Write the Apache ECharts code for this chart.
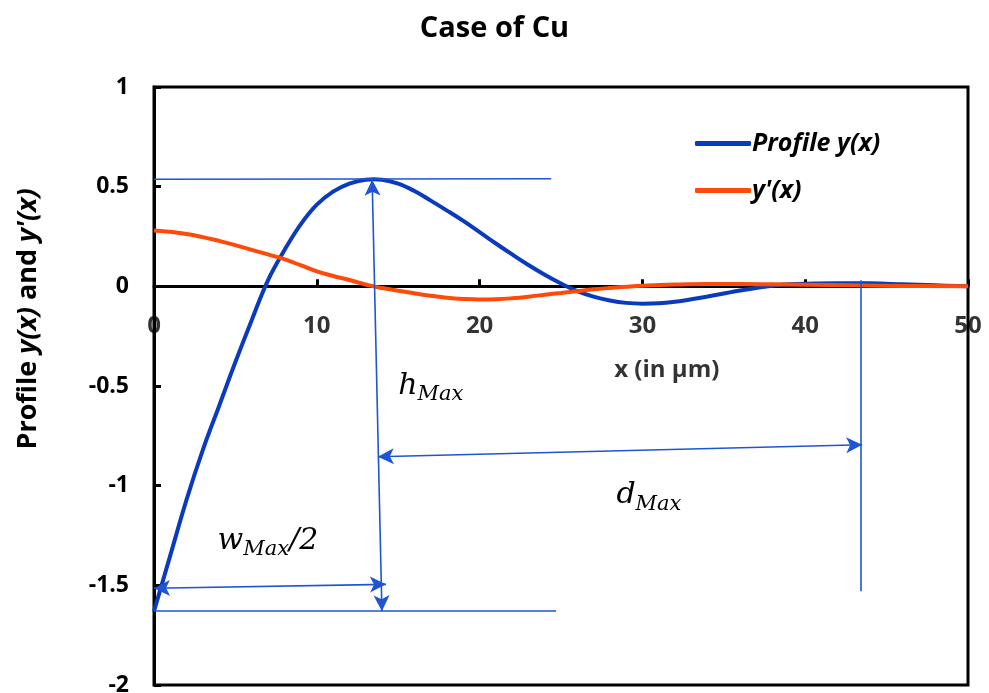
<!DOCTYPE html>
<html>
<head>
<meta charset="utf-8">
<script src="https://cdn.jsdelivr.net/npm/echarts@6/dist/echarts.min.js"></script>
<style>html,body{margin:0;padding:0;background:#fff}#c{width:989px;height:693px}</style>
</head>
<body>
<div id="c"></div>
<script>
// ---- data ----
const profileX = [0,0.5,1,2,3,4,5,6,7,8,9,10,11,12,13,13.5,14,15,16,17,18,19,20,21,22,23,24,25,26,27,28,29,30,31,32,33,34,35,36,37,38,39,40,42,44,46,48,50];
const profileY = [-1.63,-1.49,-1.35,-1.07,-0.82,-0.6,-0.38,-0.17,0.03,0.18,0.31,0.41,0.475,0.515,0.535,0.537,0.535,0.515,0.478,0.43,0.38,0.328,0.272,0.215,0.16,0.107,0.058,0.014,-0.024,-0.052,-0.071,-0.083,-0.087,-0.085,-0.077,-0.065,-0.051,-0.036,-0.021,-0.008,0.003,0.01,0.013,0.015,0.015,0.01,0.005,0];
const derivX = [0,2,4,6,7,8,9,10,11,12,13,13.5,14,15,16,17,18,19,20,21,22,23,24,25,26,27,28,29,30,32,34,36,38,40,43,46,50];
const derivY = [0.28,0.263,0.228,0.183,0.16,0.136,0.106,0.075,0.052,0.032,0.009,0,-0.008,-0.022,-0.035,-0.047,-0.057,-0.063,-0.066,-0.065,-0.06,-0.052,-0.042,-0.033,-0.024,-0.015,-0.008,-0.002,0.003,0.009,0.012,0.012,0.01,0.008,0.005,0.002,0];
const seriesNames = ['Profile y(x)', "y'(x)"];
const yTicks = {min: -2, max: 1, interval: 0.5};
const xTicks = {min: 0, max: 50, interval: 10};
const xTickLabels = [0, 10, 20, 30, 40, 50];
const xAxisTitle = {text: 'x (in µm)', at: [31.5, -0.42]};
// annotation geometry in data units
const guideLines = [
  [[0, 0.537], [24.4, 0.54]],
  [[0, -1.63], [24.7, -1.628]],
  [[43.4, 0.03], [43.4, -1.53]]
];
const arrowLines = [
  [[13.4, 0.535], [14.0, -1.63]],
  [[0, -1.515], [14.25, -1.495]],
  [[13.75, -0.855], [43.5, -0.795]]
];
const annotLabels = [
  {pos: [17.0, -0.5], text: '{i|h}{s|Max}'},
  {pos: [30.4, -1.05], text: '{i|d}{s|Max}'},
  {pos: [7.0, -1.28], text: '{i|w}{s|Max}{i|/2}'}
];

const chart = echarts.init(document.getElementById('c'), null, {renderer: 'canvas'});
const toPairs = (xs, ys) => xs.map((x, i) => [x, ys[i]]);
const annColor = '#1f55d2';
const FONT = 'Open Sans';
const mathRich = {
  i: {fontFamily: 'DejaVu Serif', fontStyle: 'italic', fontSize: 30, color: '#000', textBorderWidth: 0},
  s: {fontFamily: 'DejaVu Serif', fontStyle: 'italic', fontSize: 21, color: '#000', textBorderWidth: 0, padding: [17, 0, 0, 0]}
};

chart.setOption({
  animation: false,
  backgroundColor: '#fff',
  title: {
    text: 'Case of Cu', left: 'center', top: 9,
    textStyle: {fontFamily: FONT, fontWeight: 'bold', fontSize: 29, color: '#000'}
  },
  grid: {left: 154, right: 21, top: 87, bottom: 8, show: true, borderColor: '#000', borderWidth: 3,
         backgroundColor: 'transparent', containLabel: false, outerBoundsMode: 'none'},
  legend: {
    orient: 'vertical', left: 690, top: 126, itemGap: 22, itemWidth: 56, itemHeight: 5,
    icon: 'roundRect',
    data: seriesNames,
    textStyle: {fontFamily: FONT, fontWeight: 'bold', fontStyle: 'italic', fontSize: 25, color: '#000', padding: [0, 0, 0, -4]}
  },
  xAxis: {
    type: 'value', min: xTicks.min, max: xTicks.max, interval: xTicks.interval,
    axisLine: {onZero: true, lineStyle: {color: '#000', width: 3}},
    axisTick: {inside: true, length: 7, lineStyle: {color: '#000', width: 3}},
    axisLabel: {show: false},
    splitLine: {show: false}
  },
  yAxis: {
    type: 'value', min: yTicks.min, max: yTicks.max, interval: yTicks.interval,
    axisLine: {onZero: false, lineStyle: {color: '#000', width: 3}},
    axisTick: {inside: true, length: 7, lineStyle: {color: '#000', width: 3}},
    axisLabel: {margin: 25, fontFamily: FONT, fontWeight: 'bold', fontSize: 23, color: '#000'},
    splitLine: {show: false},
    name: "{n|Profile }{it|y(x)}{n| and }{it|y'(x)}", nameLocation: 'middle', nameGap: 112,
    nameTextStyle: {
      padding: [0, 0, 0, 134],
      rich: {
        n: {fontFamily: FONT, fontWeight: 'bold', fontSize: 27, color: '#000'},
        it: {fontFamily: FONT, fontWeight: 'bold', fontStyle: 'italic', fontSize: 27, color: '#000'}
      }
    }
  },
  series: [
    {
      name: seriesNames[0], type: 'line', smooth: 0.4, symbol: 'none', z: 3,
      data: toPairs(profileX, profileY),
      lineStyle: {color: '#0a3bbe', width: 4}, itemStyle: {color: '#0a3bbe'}
    },
    {
      name: seriesNames[1], type: 'line', smooth: 0.4, symbol: 'none', z: 4,
      data: toPairs(derivX, derivY),
      lineStyle: {color: '#ff4a08', width: 4}, itemStyle: {color: '#ff4a08'}
    },
    {
      name: 'annotations', type: 'line', data: [], symbol: 'none', z: 5,
      markLine: {
        silent: true, animation: false,
        symbol: ['arrow', 'arrow'], symbolSize: [12, 16],
        label: {show: false},
        lineStyle: {color: annColor, width: 1.6, type: 'solid'},
        emphasis: {disabled: true},
        data: arrowLines.map(l => [{coord: l[0]}, {coord: l[1]}]).concat(
          guideLines.map(l => [{coord: l[0], symbol: 'none'}, {coord: l[1], symbol: 'none'}])
        )
      }
    },
    {
      name: 'labels', type: 'scatter', symbolSize: 0, z: 6, silent: true,
      data: annotLabels.map(a => ({value: a.pos, label: {formatter: a.text}})),
      label: {show: true, position: 'inside', color: '#000', opacity: 1, textBorderWidth: 0, rich: mathRich}
    },
    {
      name: 'xticklabels', type: 'scatter', symbolSize: 0, z: 6, silent: true, clip: false,
      data: xTickLabels.map(v => [v, 0]),
      label: {show: true, position: 'inside', offset: [0, 40], formatter: p => String(p.value[0]),
              fontFamily: FONT, fontWeight: 'bold', fontSize: 24, color: '#000'}
    },
    {
      name: 'xname', type: 'scatter', symbolSize: 0, z: 6, silent: true,
      data: [{value: xAxisTitle.at, label: {formatter: xAxisTitle.text}}],
      label: {show: true, position: 'inside', fontFamily: FONT, fontWeight: 'bold', fontSize: 24, color: '#000'}
    }
  ]
});
</script>
</body>
</html>
